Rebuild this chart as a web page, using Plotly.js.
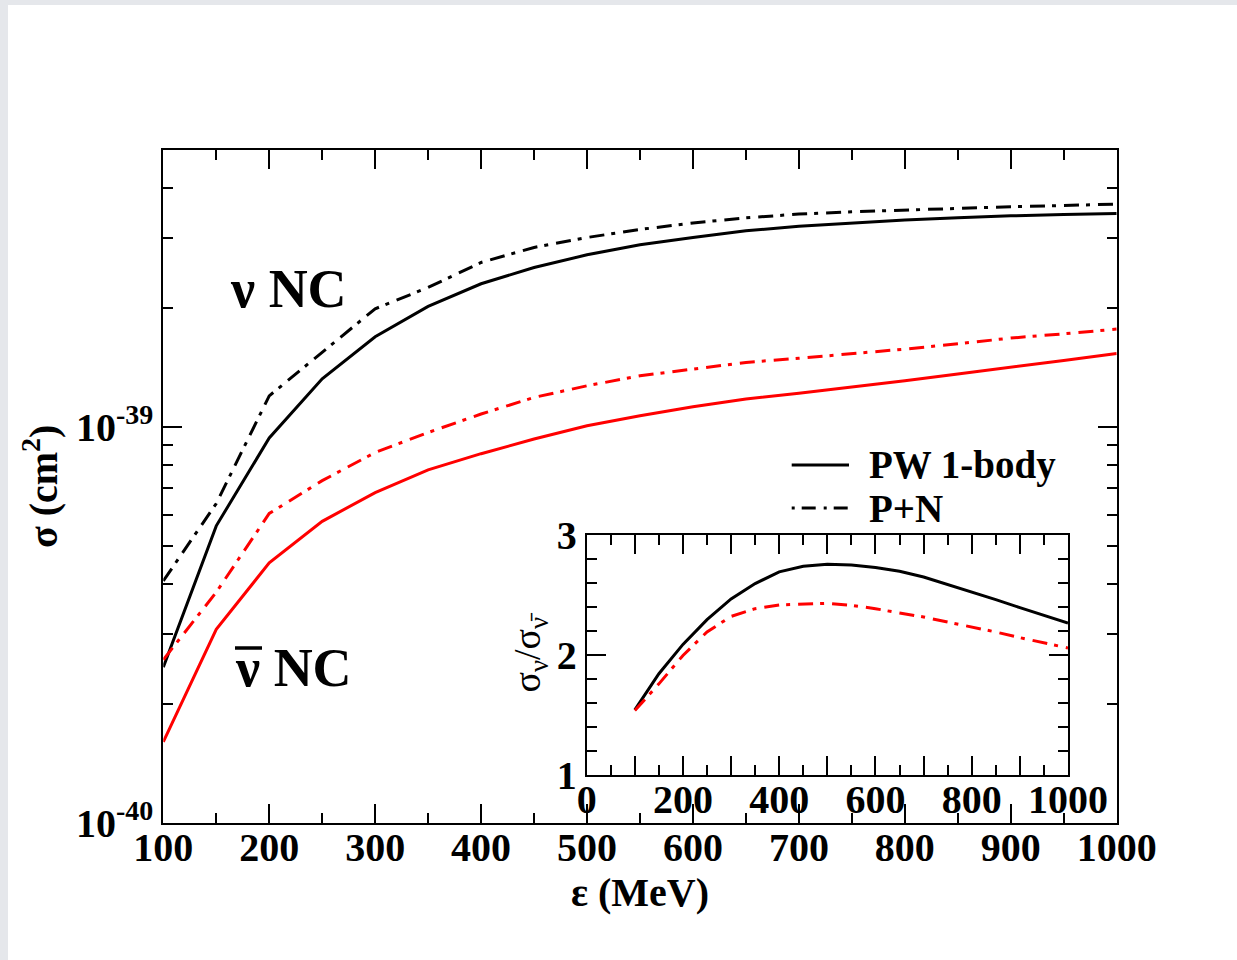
<!DOCTYPE html>
<html><head><meta charset="utf-8">
<script src="https://cdn.plot.ly/plotly-3.0.1.min.js"></script>
<style>html,body{margin:0;padding:0;background:#fff}#chart{width:1237px;height:960px}</style>
</head><body><div id="chart"></div>
<script>
// Energy grid (MeV)
const energy = [100,150,200,250,300,350,400,450,500,550,600,650,700,750,800,850,900,950,1000];
// Cross sections in units of 1e-39 cm^2
const UNIT = 1e-39;
const nuPW    = [0.247,0.562,0.937,1.322,1.688,2.013,2.297,2.525,2.718,2.881,3.006,3.125,3.210,3.275,3.330,3.370,3.410,3.435,3.457];
const nuPN    = [0.408,0.640,1.197,1.540,1.986,2.248,2.600,2.837,3.006,3.150,3.270,3.370,3.445,3.490,3.530,3.560,3.594,3.625,3.650];
const nubarPW = [0.160,0.308,0.453,0.577,0.682,0.778,0.855,0.931,1.006,1.066,1.123,1.175,1.215,1.258,1.306,1.359,1.412,1.471,1.531];
const nubarPN = [0.258,0.382,0.604,0.731,0.861,0.967,1.077,1.186,1.269,1.345,1.398,1.454,1.489,1.528,1.571,1.620,1.675,1.717,1.765];
// Inset: ratio sigma_nu / sigma_nubar
const ratioPW = [1.542,1.842,2.086,2.292,2.464,2.592,2.689,2.736,2.753,2.747,2.725,2.694,2.647,2.586,2.522,2.458,2.392,2.328,2.264];
const ratioPN = [1.536,1.758,1.994,2.190,2.319,2.383,2.414,2.419,2.428,2.411,2.383,2.347,2.314,2.272,2.231,2.189,2.142,2.100,2.056];
// Tick definitions
const mainXTicks = [100,200,300,400,500,600,700,800,900,1000];
const mainXMinor = [150,250,350,450,550,650,750,850,950];
const mainYTicks = [1e-40,1e-39];
const mainYTickText = ['10<sup>-40</sup>','10<sup>-39</sup>'];
const mainYMinor = [2e-40,3e-40,4e-40,5e-40,6e-40,7e-40,8e-40,9e-40,2e-39,3e-39,4e-39,5e-39];
const insetXTicks = [0,200,400,600,800,1000];
const insetXMid = [100,300,500,700,900];
const insetXMinor = [50,150,250,350,450,550,650,750,850,950];
const insetYTicks = [1,2,3];
const insetYMinor = [1.2,1.4,1.6,1.8,2.2,2.4,2.6,2.8];

const W = 1237, H = 960;
const px = v => v / W;
const py = v => 1 - v / H;
const FONT = 'Liberation Serif, Times New Roman, serif';
const DASHDOT = '15px,7px,4px,8px';
const scale = a => a.map(v => v * UNIT);

const lineStyle = (color, dash) => ({color: color, width: 3, dash: dash});

const traces = [
  {x: energy, y: scale(nuPW), xaxis:'x', yaxis:'y', mode:'lines', line: lineStyle('#000000','solid'), showlegend:false},
  {x: energy, y: scale(nuPN), xaxis:'x', yaxis:'y', mode:'lines', line: lineStyle('#000000',DASHDOT), showlegend:false},
  {x: energy, y: scale(nubarPW), xaxis:'x', yaxis:'y', mode:'lines', line: lineStyle('#ff0000','solid'), showlegend:false},
  {x: energy, y: scale(nubarPN), xaxis:'x', yaxis:'y', mode:'lines', line: lineStyle('#ff0000',DASHDOT), showlegend:false},
  {x: energy, y: ratioPW, xaxis:'x2', yaxis:'y2', mode:'lines', line: lineStyle('#000000','solid'), showlegend:false},
  {x: energy, y: ratioPN, xaxis:'x2', yaxis:'y2', mode:'lines', line: lineStyle('#ff0000',DASHDOT), showlegend:false},
  // carrier for the overlaying inset tick axis (no visible marks)
  {x: [], y: [], xaxis:'x3', yaxis:'y2', mode:'lines', showlegend:false, hoverinfo:'skip'}
];

const axisCommon = {
  showline: true, linecolor: '#000', linewidth: 2, mirror: 'ticks',
  ticks: 'inside', ticklen: 19, tickwidth: 2, tickcolor: '#000',
  showgrid: false, zeroline: false, automargin: false,
  tickfont: {family: FONT, size: 40, color: '#000', weight: 'bold'}
};
const minorStyle = {tickmode:'array', ticks:'inside', ticklen: 10, tickwidth: 2, tickcolor:'#000'};

const layout = {
  width: W, height: H,
  margin: {l:0, r:0, t:0, b:0},
  paper_bgcolor: '#ffffff', plot_bgcolor: 'rgba(0,0,0,0)',
  showlegend: false,
  xaxis: Object.assign({}, axisCommon, {
    domain: [px(163.3), px(1116.7)], range: [100, 1000], anchor: 'y',
    tickmode: 'array', tickvals: mainXTicks, ticklabelstandoff: -12,
    minor: Object.assign({tickvals: mainXMinor}, minorStyle),
    title: {text: 'ε (MeV)', font: {family: FONT, size: 40, color: '#000', weight: 'bold'}, standoff: 0}
  }),
  yaxis: Object.assign({}, axisCommon, {
    domain: [py(822.7), py(150)], type: 'log', range: [-40, Math.log10(5e-39)], anchor: 'x',
    tickmode: 'array', tickvals: mainYTicks, ticktext: mainYTickText,
    minor: Object.assign({tickvals: mainYMinor}, minorStyle),
    title: {text: 'σ (cm<sup>2</sup>)', font: {family: FONT, size: 40, color: '#000', weight: 'bold'}, standoff: 6}
  }),
  xaxis2: Object.assign({}, axisCommon, {
    domain: [px(586.7), px(1068)], range: [0, 1000], anchor: 'y2',
    tickmode: 'array', tickvals: insetXTicks, ticklabelstandoff: -12,
    minor: Object.assign({tickvals: insetXMinor}, minorStyle)
  }),
  xaxis3: {
    overlaying: 'x2', anchor: 'y2', domain: [px(586.7), px(1068)], range: [0, 1000],
    showline: false, mirror: 'ticks', ticks: 'inside', ticklen: 19, tickwidth: 2, tickcolor: '#000',
    tickmode: 'array', tickvals: insetXMid, showticklabels: false, showgrid: false, zeroline: false
  },
  yaxis2: Object.assign({}, axisCommon, {
    domain: [py(775), py(534.5)], range: [1, 3], anchor: 'x2',
    tickmode: 'array', tickvals: insetYTicks,
    minor: Object.assign({tickvals: insetYMinor}, minorStyle),
    title: {text: 'σ<sub>ν</sub>/σ<sub>ν̄</sub>', font: {family: FONT, size: 38, color: '#000'}, standoff: 4}
  }),
  shapes: [
    {type:'rect', xref:'paper', yref:'paper', x0:0, x1:px(8), y0:0, y1:1, fillcolor:'#e5e7eb', line:{width:0}, layer:'below'},
    {type:'rect', xref:'paper', yref:'paper', x0:0, x1:1, y0:py(5), y1:1, fillcolor:'#e5e7eb', line:{width:0}, layer:'below'},
    // legend samples
    {type:'line', xref:'paper', yref:'paper', x0:px(791.7), x1:px(849), y0:py(465), y1:py(465), line:{color:'#000', width:3}},
    {type:'line', xref:'paper', yref:'paper', x0:px(791.7), x1:px(849), y0:py(508), y1:py(508), line:{color:'#000', width:3, dash:'3px,7px,14px,8px'}},
    // overbar of anti-neutrino label
    {type:'line', xref:'paper', yref:'paper', x0:px(235), x1:px(262), y0:py(648), y1:py(648), line:{color:'#000', width:3.5}}
  ],
  annotations: [
    {xref:'paper', yref:'paper', x:px(288.5), y:py(289), text:'ν NC', showarrow:false, xanchor:'center', yanchor:'middle',
     font:{family: FONT, size: 54, color:'#000', weight:'bold'}},
    {xref:'paper', yref:'paper', x:px(293.5), y:py(668), text:'ν NC', showarrow:false, xanchor:'center', yanchor:'middle',
     font:{family: FONT, size: 54, color:'#000', weight:'bold'}},
    {xref:'paper', yref:'paper', x:px(866.7), y:py(465), text:'PW 1-body', showarrow:false, xanchor:'left', yanchor:'middle',
     font:{family: FONT, size: 39, color:'#000', weight:'bold'}},
    {xref:'paper', yref:'paper', x:px(866.7), y:py(508), text:'P+N', showarrow:false, xanchor:'left', yanchor:'middle',
     font:{family: FONT, size: 39, color:'#000', weight:'bold'}}
  ]
};

Plotly.newPlot('chart', traces, layout, {displayModeBar: false, staticPlot: true});
</script>
</body></html>
